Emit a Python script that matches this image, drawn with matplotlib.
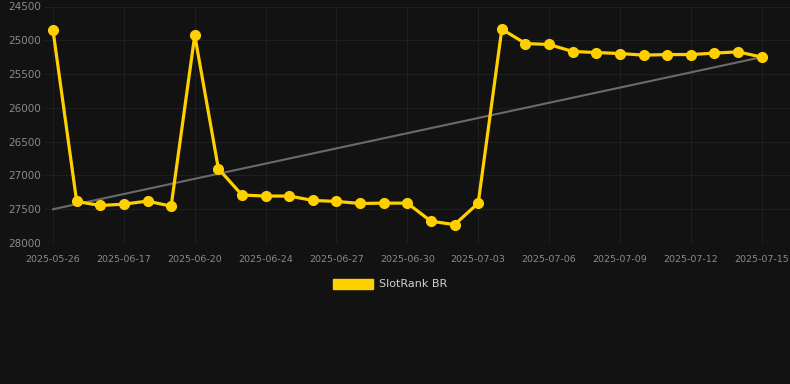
import matplotlib
matplotlib.use("Agg")
import matplotlib.pyplot as plt
from matplotlib.patches import Patch
import numpy as np

# ----------------------------- data -----------------------------
dates = ["2025-05-26", "2025-06-15", "2025-06-16", "2025-06-17", "2025-06-18",
         "2025-06-19", "2025-06-20", "2025-06-21", "2025-06-22", "2025-06-24",
         "2025-06-25", "2025-06-26", "2025-06-27", "2025-06-28", "2025-06-29",
         "2025-06-30", "2025-07-01", "2025-07-02", "2025-07-03", "2025-07-04",
         "2025-07-05", "2025-07-06", "2025-07-07", "2025-07-08", "2025-07-09",
         "2025-07-10", "2025-07-11", "2025-07-12", "2025-07-13", "2025-07-14",
         "2025-07-15"]
rank = [24855, 27385, 27445, 27425, 27380, 27455, 24925, 26900, 27290, 27305,
        27305, 27370, 27385, 27415, 27410, 27410, 27678, 27728, 27410, 24835,
        25048, 25062, 25166, 25181, 25196, 25220, 25211, 25211, 25190, 25171,
        25249]
trend_start, trend_end = 27500, 25250
series_name = "SlotRank BR"
yticks = [24500, 25000, 25500, 26000, 26500, 27000, 27500, 28000]

BG = "#121212"
GOLD = "#FFD000"

# ----------------------------- plot -----------------------------
fig = plt.figure(figsize=(7.9, 3.84), dpi=100, facecolor=BG)
ax = fig.add_axes([45 / 790, 1 - 243 / 384, 1 - 45 / 790, (243 - 6.5) / 384])
ax.set_facecolor(BG)

x = np.arange(len(dates))
ax.plot([x[0], x[-1]], [trend_start, trend_end], color="#6a6a6a", lw=1.5, zorder=2)
ax.plot(x, rank, color=GOLD, lw=2.3, marker="o", ms=7, zorder=3)

ax.set_ylim(28000, 24500)
ax.set_xlim(-0.34, 31.2)
ax.set_yticks(yticks)
ax.set_xticks(x[::3])
ax.set_xticklabels(dates[::3])
ax.tick_params(axis="y", length=0, pad=3, labelsize=7.5, labelcolor="#8a8a8a")
ax.tick_params(axis="x", length=0, pad=9, labelsize=6.8, labelcolor="#8a8a8a")
ax.grid(True, color="#1f1f1f", lw=0.8)
ax.set_axisbelow(True)
for s in ax.spines.values():
    s.set_visible(False)

handle = Patch(facecolor=GOLD, edgecolor=GOLD)
fig.legend([handle], [series_name], loc="center",
           bbox_to_anchor=(390 / 790, 1 - 284 / 384), frameon=False,
           fontsize=8, labelcolor="#d0d0d0", handlelength=3.6,
           handleheight=1.0, handletextpad=0.6)

fig.savefig("out.png", dpi=100, facecolor=BG)
